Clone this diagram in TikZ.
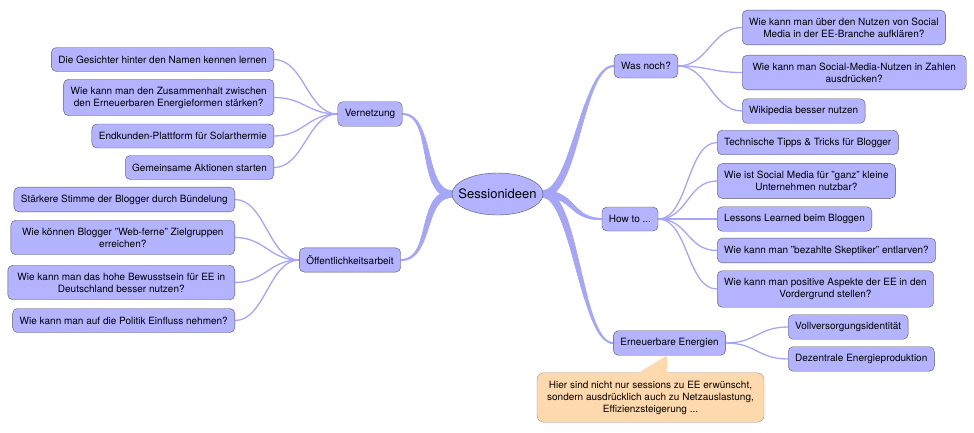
\documentclass[tikz,border=0pt]{standalone}
\usepackage{fontspec}
\setmainfont{TeX Gyre Heros}
\usepackage{tikz}
\usetikzlibrary{calc,shapes.geometric,backgrounds,decorations.markings}

\definecolor{boxfill}{HTML}{B3B3FF}
\definecolor{boxline}{HTML}{555568}
\definecolor{branchcol}{HTML}{A6A6F8}
\definecolor{notefill}{HTML}{FFD9AE}
\definecolor{noteline}{HTML}{A08C78}

\begin{document}
\begin{tikzpicture}[x=1pt, y=-1pt,
	box/.style={draw=boxline, fill=boxfill, rounded corners=5pt, align=center, inner xsep=7pt, inner ysep=7.5pt, minimum height=24pt, font=\fontsize{10}{12}\selectfont},
	note/.style={draw=noteline, fill=notefill, rounded corners=7pt, align=center, inner xsep=7pt, inner ysep=8pt, minimum width=227pt, font=\fontsize{10}{12}\selectfont},
	twig/.style={draw=branchcol, line width=1.3pt},
	taper/.style={postaction={decorate}, decoration={markings, mark=between positions 0 and 1 step 0.5pt with {\fill[branchcol] (0,0) circle[radius={(4-3*\pgfkeysvalueof{/pgf/decoration/mark info/distance from start}/\pgfdecoratedpathlength)*1pt}];}}}]
	\useasboundingbox (0,0) rectangle (974,432);

	\node[ellipse, draw=boxline, fill=boxfill, minimum width=91pt, minimum height=42pt, inner sep=0pt, font=\fontsize{13}{15}\selectfont] (c) at (497.5,194) {\makebox[0pt]{Sessionideen}};

	\node[box] (vn) at (370,114) {Vernetzung};
	\node[box] (oa) at (350,260) {Öffentlichkeitsarbeit};
	\node[box] (wn) at (646,66) {Was noch?};
	\node[box] (ht) at (630,219) {How to ...};
	\node[box] (ee) at (669.5,343) {Erneuerbare Energien};

	\node[box, anchor=east] (v1) at (274,59.5) {Die Gesichter hinter den Namen kennen lernen};
	\node[box, anchor=east] (v2) at (274,97.5) {Wie kann man den Zusammenhalt zwischen\\den Erneuerbaren Energieformen stärken?};
	\node[box, anchor=east] (v3) at (274,136) {Endkunden-Plattform für Solarthermie};
	\node[box, anchor=east] (v4) at (274,167.5) {Gemeinsame Aktionen starten};

	\node[box, anchor=east] (o1) at (235,199.5) {Stärkere Stimme der Blogger durch Bündelung};
	\node[box, anchor=east, minimum width=224pt] (o2) at (235,237.5) {Wie können Blogger "Web-ferne" Zielgruppen\\erreichen?};
	\node[box, anchor=east, minimum width=227pt] (o3) at (235,282.5) {Wie kann man das hohe Bewusstsein für EE in\\Deutschland besser nutzen?};
	\node[box, anchor=east] (o4) at (235,320.5) {Wie kann man auf die Politik Einfluss nehmen?};

	\node[box, anchor=west] (w1) at (742,27.5) {Wie kann man über den Nutzen von Social\\Media in der EE-Branche aufklären?};
	\node[box, anchor=west, minimum width=224pt] (w2) at (742,72.5) {Wie kann man Social-Media-Nutzen in Zahlen\\ausdrücken?};
	\node[box, anchor=west] (w3) at (742,111) {Wikipedia besser nutzen};

	\node[box, anchor=west] (h1) at (717,142.5) {Technische Tipps \& Tricks für Blogger};
	\node[box, anchor=west] (h2) at (717,181) {Wie ist Social Media für "ganz" kleine\\Unternehmen nutzbar?};
	\node[box, anchor=west] (h3) at (717,219) {Lessons Learned beim Bloggen};
	\node[box, anchor=west] (h4) at (717,250.5) {Wie kann man "bezahlte Skeptiker" entlarven?};
	\node[box, anchor=west] (h5) at (717,289) {Wie kann man positive Aspekte der EE in den\\Vordergrund stellen?};

	\node[box, anchor=west] (e1) at (788,327) {Vollversorgungsidentität};
	\node[box, anchor=west] (e2) at (788,359) {Dezentrale Energieproduktion};

	\node[note] (nt) at (650.5,397.5) {Hier sind nicht nur sessions zu EE erwünscht,\\sondern ausdrücklich auch zu Netzauslastung,\\Effizienzsteigerung ...};
	\coordinate (tip) at ($(ee.south)+(-2.5,0)$);
	\fill[notefill] (tip) -- ($(tip |- nt.north)+(0,1)$) -- ($(tip |- nt.north)+(-30,1)$) -- cycle;

	\begin{scope}[on background layer]
		\foreach \a/\b/\o/\i in {c.east/wn.west/0/180, c.east/ht.west/0/180, c.east/ee.west/0/180, c.west/vn.east/180/0, c.west/oa.east/180/0}
			\path[taper] (\a) .. controls +(\o:32) and +(\i:32) .. (\b);
		\foreach \p/\c in {vn/v1, vn/v2, vn/v3, vn/v4, oa/o1, oa/o2, oa/o3, oa/o4}
			\draw[twig] (\p.west) .. controls +(180:30) and +(0:30) .. (\c.east);
		\foreach \p/\c in {wn/w1, wn/w2, wn/w3, ht/h1, ht/h2, ht/h3, ht/h4, ht/h5, ee/e1, ee/e2}
			\draw[twig] (\p.east) .. controls +(0:30) and +(180:30) .. (\c.west);
	\end{scope}
\end{tikzpicture}
\end{document}
